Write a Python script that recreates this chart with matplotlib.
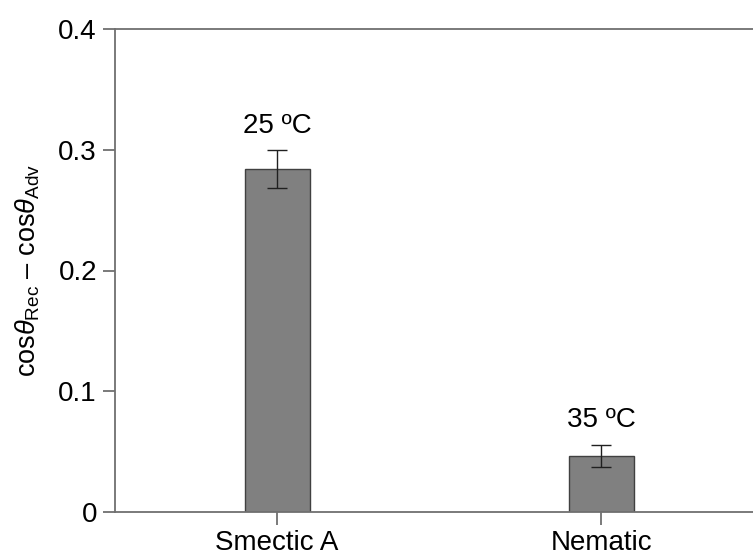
import matplotlib
matplotlib.use("Agg")
import matplotlib.pyplot as plt

categories = ["Smectic A", "Nematic"]
values = [0.284, 0.0465]
errors = [0.016, 0.009]
annotations = ["25 ºC", "35 ºC"]
yticks = [0, 0.1, 0.2, 0.3, 0.4]
yticklabels = ["0", "0.1", "0.2", "0.3", "0.4"]

plt.rcParams['font.family'] = ['Liberation Sans', 'DejaVu Sans']
plt.rcParams['mathtext.fontset'] = 'custom'
plt.rcParams['mathtext.rm'] = 'Liberation Sans'
plt.rcParams['mathtext.it'] = 'Liberation Sans:italic'

fig = plt.figure(figsize=(7.53, 5.51), dpi=100)
W, H = 753, 551
ax = fig.add_axes([115 / W, 1 - 512 / H, (763.5 - 115) / W, (512 - 29) / H])

x = list(range(len(categories)))
ax.bar(x, values, width=0.2, color="#808080", edgecolor="#404040", linewidth=1.0, zorder=2)
ax.errorbar(x, values, yerr=errors, fmt="none", ecolor="#202020", elinewidth=1.0,
            capsize=7, capthick=1.0, zorder=3)

offsets = [0.0135, 0.015]
for xi, v, e, t, o in zip(x, values, errors, annotations, offsets):
    ax.text(xi, v + e + o, t, ha="center", va="baseline", fontsize=20, color="black")

ax.set_xlim(-0.5, 1.5)
ax.set_ylim(0, 0.4)
ax.set_xticks(x)
ax.set_xticklabels(categories, fontsize=20)
ax.set_yticks(yticks)
ax.set_yticklabels(yticklabels, fontsize=20)

for s in ["left", "top", "bottom", "right"]:
    ax.spines[s].set_color("#707070")
    ax.spines[s].set_linewidth(1.3)
ax.tick_params(axis="both", direction="out", length=9, width=1.3, color="#707070", pad=4)

ax.set_ylabel(r"cos$\mathit{\theta}_{\mathrm{Rec}}$ – cos$\mathit{\theta}_{\mathrm{Adv}}$",
              fontsize=19.5)
ax.yaxis.set_label_coords(-0.112, 0.5)

fig.savefig("out.png", dpi=100)
